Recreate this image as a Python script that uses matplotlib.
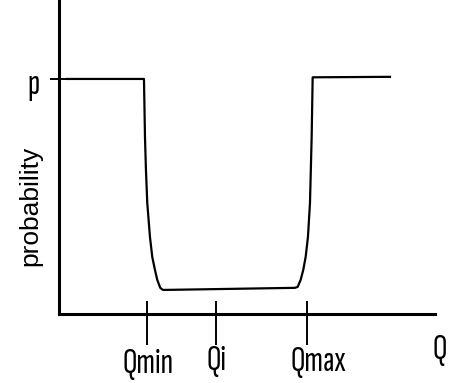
import matplotlib
matplotlib.use("Agg")
import matplotlib.pyplot as plt

# schematic values (arbitrary units)
q_marks = [2.0, 3.57, 5.64]
q_labels = ["Qmin", "Qi", "Qmax"]
p_level = 1.0

# probability curve
curve_q = [0.18, 1.932, 1.955, 1.977, 2.007, 2.068, 2.12, 2.182, 2.234, 2.302, 2.364,
           5.364, 5.425, 5.493, 5.552, 5.607, 5.659, 5.705, 5.743, 5.766, 7.523]
curve_p = [1.0, 1.0, 0.753, 0.613, 0.472, 0.328, 0.243, 0.187, 0.145, 0.111, 0.102,
           0.111, 0.115, 0.145, 0.187, 0.243, 0.328, 0.472, 0.753, 1.007, 1.009]

narrow = ["Sofia Sans Extra Condensed", "Roboto Condensed", "DejaVu Sans"]
plt.rcParams["font.family"] = narrow

fig = plt.figure(figsize=(4.51, 3.83), dpi=100)
ax = fig.add_axes([0, 0, 1, 1])
ax.set_xlim(-1.34, 8.91)
ax.set_ylim(-0.294, 1.336)
ax.set_xticks([])
ax.set_yticks([])

# axes drawn as spines through the origin
for s in ["top", "right"]:
    ax.spines[s].set_visible(False)
ax.spines["left"].set_position(("data", 0))
ax.spines["bottom"].set_position(("data", 0))
ax.spines["left"].set_bounds(0, 1.336)
ax.spines["bottom"].set_bounds(0, 8.545)
ax.spines["left"].set_linewidth(2.2)
ax.spines["bottom"].set_linewidth(2.2)

ax.plot(curve_q, curve_p, color="black", lw=1.6, solid_joinstyle="round")

# tick marks
ax.vlines(q_marks, -0.133, 0.055, color="black", lw=1.4)
ax.hlines(p_level, -0.2, 0.25, color="black", lw=1.4)

label_x = [2.02, 3.57, 5.89]
label_y = [-0.213, -0.2, -0.205]
for x, y, t in zip(label_x, label_y, q_labels):
    ax.text(x, y, t, fontsize=26, ha="center", va="center")
ax.text(8.66, -0.153, "Q", fontsize=26, ha="center", va="center")
ax.text(-0.57, 0.975, "p", fontsize=26, ha="center", va="center")
ax.text(-0.64, 0.46, "probability", fontsize=19, rotation=90,
        ha="center", va="center", family=["Liberation Sans", "DejaVu Sans"])

fig.savefig("out.png", dpi=100)
